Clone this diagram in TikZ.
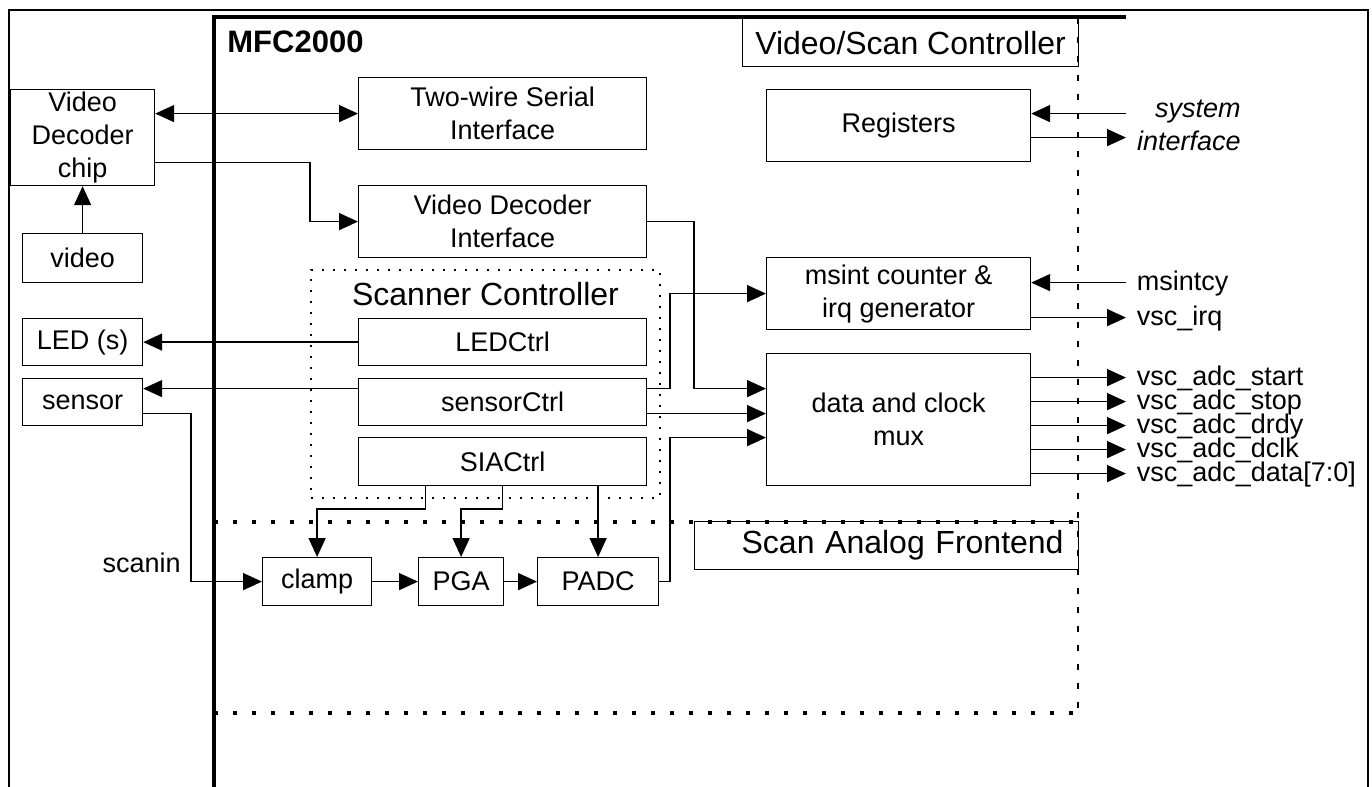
\documentclass[tikz,border=0pt]{standalone}
\usepackage{fontspec}
\setmainfont{Liberation Sans}
\usetikzlibrary{arrows.meta}

\begin{document}
\begin{tikzpicture}[x=0.5pt, y=-0.5pt]
  % Fonts
  \def\bfs{\fontsize{13.5}{16.5}\selectfont}
  \def\lfs{\fontsize{16}{19}\selectfont}
  %
  \tikzset{
    blk/.style={draw, line width=0.6pt, align=center, inner sep=0pt, anchor=north west, font=\bfs},
    lblbox/.style={draw, line width=0.6pt, inner sep=0pt, anchor=north west, font=\lfs},
    arr/.style={line width=0.8pt, -{Triangle[length=9.5pt, width=8.5pt]}},
    darr/.style={line width=0.8pt, {Triangle[length=9.5pt, width=8.5pt]}-{Triangle[length=9.5pt, width=8.5pt]}},
    pinlbl/.style={anchor=base west, inner sep=0pt, font=\bfs},
    finedots/.style={line width=1pt, dash pattern=on 1pt off 4.5pt},
    bigdots/.style={line width=2pt, dash pattern=on 2pt off 7.5pt},
    vdash/.style={line width=1.4pt, dash pattern=on 3pt off 6.5pt},
  }
  \useasboundingbox (0,0) rectangle (1372,787);
  %
  %%% FRAMES %%%
  \draw[line width=1pt] (9,787) |- (1368,10) -- (1368,787);
  \draw[line width=1.6pt] (214,787) |- (1126,17);
  \node[anchor=base west, inner sep=0pt, font=\fontsize{15.5}{18}\selectfont\bfseries] (mfc) at (227,52) {MFC2000};
  \draw[vdash] (1078,18) -- (1078,715);
  \draw[bigdots] (214,522) -- (1078,522);
  \draw[bigdots] (214,713) -- (1078,713);
  \node[lblbox, minimum width=168pt, minimum height=24pt] (vsc) at (742,18) {Video/Scan Controller};
  \node[lblbox, minimum width=192pt, minimum height=24pt, text width=177pt, align=right, inner xsep=7.5pt] (safe) at (694,521) {Scan Analog Frontend};
  %
  %%% OUTSIDE %%%
  \node[blk, minimum width=72pt, minimum height=48pt] (chip) at (10,89) {Video\\Decoder\\chip};
  \node[blk, minimum width=60pt, minimum height=24.5pt] (video) at (22,233) {video};
  \node[blk, minimum width=60pt, minimum height=23.5pt] (led) at (22,318) {LED (s)};
  \node[blk, minimum width=60pt, minimum height=23.5pt] (sensor) at (22,378) {sensor};
  \node[anchor=base east, inner sep=0pt, font=\bfs] (scanin) at (181,572) {scanin};
  %
  %%% INTERFACES %%%
  \node[blk, minimum width=144pt, minimum height=36pt] (twsi) at (358,77) {Two-wire Serial\\Interface};
  \node[blk, minimum width=144pt, minimum height=36pt] (vdi) at (358,185) {Video Decoder\\Interface};
  %
  % Scanner controller
  \node[draw, finedots, inner sep=0pt, anchor=north west, minimum width=174.5pt, minimum height=114pt] (scbox) at (310,269) {};
  \node[anchor=base, inner sep=0pt, font=\lfs] (sclbl) at ([yshift=-18pt]scbox.north) {Scanner Controller};
  \node[blk, minimum width=144pt, minimum height=23.5pt] (lctl) at (358,318) {LEDCtrl};
  \node[blk, minimum width=144pt, minimum height=23.5pt] (sctl) at (358,378) {sensorCtrl};
  \node[blk, minimum width=144pt, minimum height=24pt] (sia) at (358,437) {SIACtrl};
  %
  % Analog frontend
  \node[blk, minimum width=54.5pt, minimum height=24pt] (clamp) at (262,557) {clamp};
  \node[blk, minimum width=42.5pt, minimum height=24pt] (pga) at (418,557) {PGA};
  \node[blk, minimum width=60.5pt, minimum height=24pt] (padc) at (537,557) {PADC};
  %
  % Right column
  \node[blk, minimum width=132pt, minimum height=36pt] (reg) at (766,89) {Registers};
  \node[blk, minimum width=132pt, minimum height=36pt] (msint) at (766,257) {msint counter \&\\irq generator};
  \node[blk, minimum width=132pt, minimum height=66pt] (mux) at (766,353) {data and clock\\mux};
  %
  %%% CONNECTORS %%%
  \draw[darr] (chip.east |- twsi.west) -- (twsi.west);
  \draw[arr] ([yshift=-12.5pt]chip.east) -| ([xshift=-24pt]vdi.west) -- (vdi.west);
  \draw[arr] (video.north) -- (chip.south);
  \draw[arr] (vdi.east) -| ([xshift=-36pt, yshift=15.5pt]mux.west) -- ([yshift=15.5pt]mux.west);
  \draw[arr] ([yshift=6.75pt]sctl.east) -| ([xshift=-48pt]msint.west) -- (msint.west);
  \draw[arr] ([yshift=-5.75pt]sctl.east) -- ([yshift=-5.75pt]sctl.east -| mux.west);
  \draw[arr] (padc.east) -| ([xshift=-48pt, yshift=-9pt]mux.west) -- ([yshift=-9pt]mux.west);
  \draw[arr] (lctl.west) -- (led.east);
  \draw[arr] ([yshift=6.75pt]sctl.west) -- ([yshift=6.75pt]sctl.west -| sensor.east);
  \draw[arr] ([yshift=-5.75pt]sensor.east) -| ([xshift=-35.5pt]clamp.west) -- (clamp.west);
  \draw[arr] ([xshift=-38.5pt]sia.south) |- ([yshift=24pt]clamp.north) -- (clamp.north);
  \draw[arr] (sia.south) |- ([yshift=24pt]pga.north) -- (pga.north);
  \draw[arr] (sia.south -| padc.north) -- (padc.north);
  \draw[arr] (clamp.east) -- (pga.west);
  \draw[arr] (pga.east) -- (padc.west);
  %
  % Pins on the right
  \coordinate (pin) at (1126,0);
  \draw[arr] ([yshift=6pt]reg.east -| pin) -- ([yshift=6pt]reg.east);
  \draw[arr] ([yshift=-6pt]reg.east) -- ([yshift=-6pt]reg.east -| pin);
  \node[anchor=east, align=right, inner sep=0pt, font=\bfs\itshape] (sysif) at ([xshift=57.5pt]reg.east -| pin) {system\\interface};
  \draw[arr] ([yshift=5.5pt]msint.east -| pin) node[pinlbl, xshift=5pt, yshift=-4pt] (msintcy) {msintcy} -- ([yshift=5.5pt]msint.east);
  \draw[arr] ([yshift=-12pt]msint.east) -- ([yshift=-12pt]msint.east -| pin) node[pinlbl, xshift=5pt, yshift=-4pt] (irq) {vsc\_irq};
  \foreach \dy/\nm/\sig in {21/start/start, 9/stop/stop, -3/drdy/drdy, -15/dclk/dclk, -27/data/{data[7:0]}} {
    \draw[arr] ([yshift=\dy pt]mux.east) -- ([yshift=\dy pt]mux.east -| pin) node[pinlbl, xshift=5pt, yshift=-4pt] (adc-\nm) {vsc\_adc\_\sig};
  }
\end{tikzpicture}
\end{document}
